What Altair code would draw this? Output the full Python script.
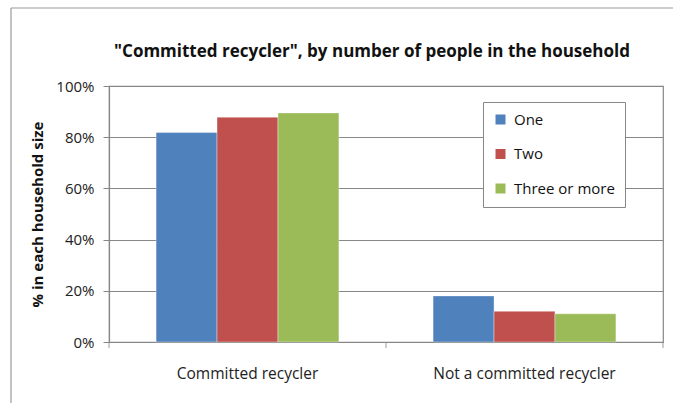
import altair as alt
import pandas as pd

categories = ["Committed recycler", "Not a committed recycler"]
series = ["One", "Two", "Three or more"]
one_vals = [0.818, 0.18]
two_vals = [0.878, 0.12]
three_vals = [0.895, 0.11]
colors = ["#4F81BD", "#C0504D", "#9BBB59"]
title_text = '"Committed recycler", by number of people in the household'

rows = []
for s, vals in zip(series, [one_vals, two_vals, three_vals]):
    for c, v in zip(categories, vals):
        rows.append({"category": c, "size": s, "value": v})
df = pd.DataFrame(rows)

FONT = "Open Sans"
GRID = "#878787"
xscale = alt.Scale(domain=categories, paddingInner=0.34, paddingOuter=0.17)
OUTER = 0.17 * 554 / 2

bars = alt.Chart(df).mark_bar(stroke="white", strokeWidth=0.6, strokeOpacity=0.6).encode(
    x=alt.X("category:N", sort=categories, scale=xscale,
            axis=alt.Axis(title=None, labelAngle=0, labelFontSize=15.5, labelFont=FONT,
                          labelColor="#222222", labelPadding=24, ticks=False, labelLimit=400,
                          domainColor=GRID, domainWidth=1.2)),
    xOffset=alt.XOffset("size:N", sort=series),
    y=alt.Y("value:Q", scale=alt.Scale(domain=[0, 1], nice=False),
            axis=alt.Axis(title="% in each household size", format=".0%", values=[0, 0.2, 0.4, 0.6, 0.8, 1.0],
                          titleFont=FONT, titleFontSize=15, titleFontWeight="bold", titleColor="#111111",
                          titlePadding=10, labelFont=FONT, labelFontSize=15, labelColor="#222222",
                          labelPadding=9, tickSize=6, tickColor=GRID, domainColor=GRID, domainWidth=1.2,
                          gridColor=GRID, gridWidth=1.2)),
    color=alt.Color("size:N", sort=series, scale=alt.Scale(domain=series, range=colors),
                    legend=alt.Legend(title=None, orient="none", legendX=374, legendY=16,
                                      direction="vertical", symbolType="square", symbolSize=100,
                                      symbolStrokeWidth=0, labelFont=FONT, labelFontSize=15,
                                      labelColor="#111111", labelOffset=6, rowPadding=18.5,
                                      padding=10, strokeColor=GRID, fillColor="white",
                                      labelLimit=200)),
)

bound_df = pd.DataFrame({"category": categories})
# category boundary tick marks on the x axis (right edge of each category step)
cat_ticks = alt.Chart(bound_df).mark_tick(color=GRID, thickness=1.2, size=6, orient="vertical",
                                          xOffset=OUTER).encode(
    x=alt.X("category:N", sort=categories, scale=xscale, bandPosition=1),
    y=alt.value(259),
)
first_tick = alt.Chart(bound_df.head(1)).mark_tick(color=GRID, thickness=1.2, size=6, orient="vertical",
                                                   xOffset=-OUTER).encode(
    x=alt.X("category:N", sort=categories, scale=xscale, bandPosition=0),
    y=alt.value(259),
)

frame_left = alt.Chart(bound_df.head(1)).mark_rule(color="#9a9a9a", strokeWidth=1.2).encode(
    x=alt.value(-98), y=alt.value(-78), y2=alt.value(330))
frame_top = alt.Chart(bound_df.head(1)).mark_rule(color="#9a9a9a", strokeWidth=1.2).encode(
    x=alt.value(-98), x2=alt.value(570), y=alt.value(-78))

title_mark = alt.Chart(pd.DataFrame({"t": [title_text]})).mark_text(
    font=FONT, fontSize=17, fontWeight="bold", color="#111111", align="center", baseline="alphabetic"
).encode(text="t:N", x=alt.value(263), y=alt.value(-29))

chart = alt.layer(frame_left, frame_top, bars, cat_ticks, first_tick, title_mark).properties(
    width=554, height=256,
    autosize=alt.AutoSizeParams(type="none"),
    padding={"left": 109, "top": 86, "right": 10, "bottom": 61},
    background="white",
).configure_view(stroke=GRID, strokeWidth=1.2).configure_axis(grid=True).configure_axisX(grid=False)

chart.save("out.html", embed_options={"renderer": "svg", "actions": False})
